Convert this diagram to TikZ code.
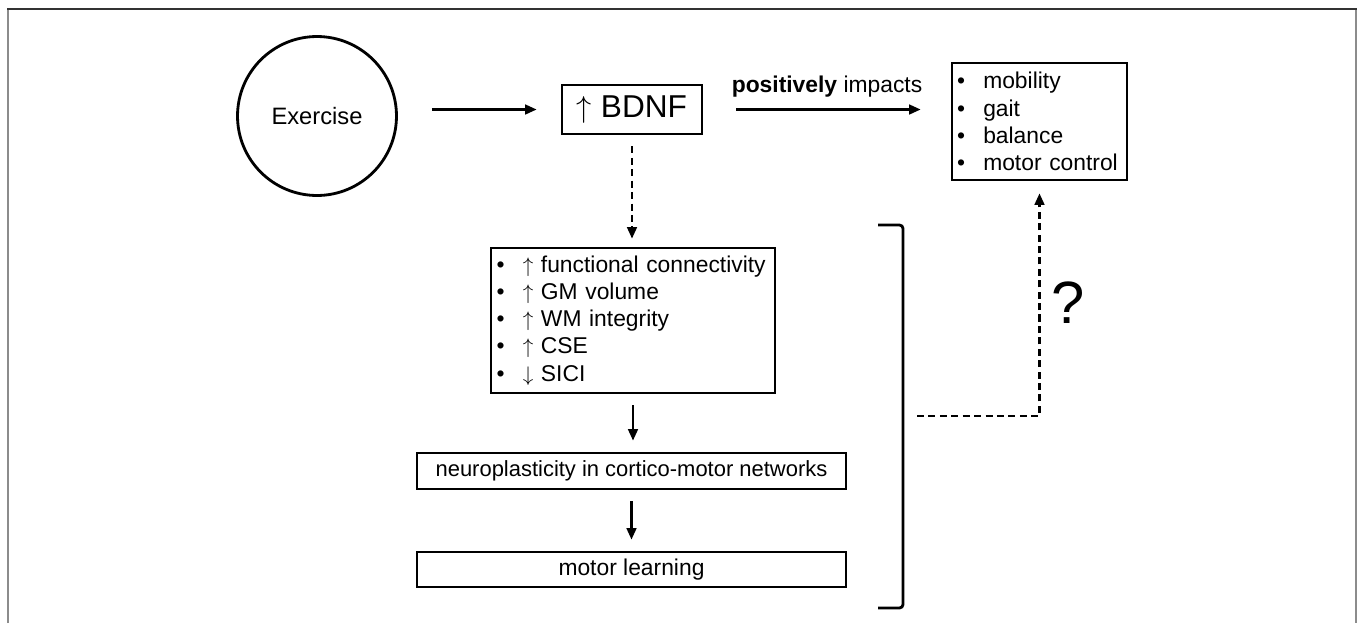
\documentclass[tikz,border=0pt]{standalone}
\usepackage{fontspec}
\setmainfont{Liberation Sans}
\usetikzlibrary{arrows.meta}

\newcommand{\itm}[1]{\mbox{\makebox[1.15em][l]{\textbullet}#1}}

\begin{document}
\begin{tikzpicture}[x=0.02cm,y=-0.02cm,
    txt/.style={font=\fontsize{13}{15.5}\selectfont},
    box/.style={txt,draw,line width=1.6pt,inner sep=0pt},
    lst/.style={box,align=left,inner xsep=0.1cm},
    arr/.style={line width=1.3pt,-{Triangle[length=6.5pt,width=5.5pt]}},
    dasharr/.style={arr,dash pattern=on 4pt off 2.5pt}]
  \useasboundingbox (0,0) rectangle (1360,623);
  \draw[line width=1.1pt,black!45] (8,623) -- (8,9) (1356,9) -- (1356,623);
  \draw[line width=1.1pt,black!80] (7,9) -- (1357,9);

  \node[txt,draw,circle,line width=1.6pt,minimum size=3.18cm,inner sep=0pt,
        font=\fontsize{13.5}{16}\selectfont] (ex) at (317,116) {Exercise};
  \node[box,minimum width=2.8cm,minimum height=0.98cm,
        font=\fontsize{18}{20}\selectfont] (bdnf) at (632,109.5) {$\uparrow$ BDNF};
  \node[txt] (pos) at (827,87) {\textbf{positively} impacts};
  \node[lst,text width=3.3cm,minimum height=2.34cm] (mob) at (1039.5,121.5)
    {\itm{mobility}\\ \itm{gait}\\ \itm{balance}\\ \itm{motor control}};

  \node[lst,text width=5.46cm,inner xsep=0.11cm,minimum height=2.9cm] (chg) at (633,320.5)
    {\itm{$\uparrow$ functional connectivity}\\ \itm{$\uparrow$ GM volume}\\
     \itm{$\uparrow$ WM integrity}\\ \itm{$\uparrow$ CSE}\\ \itm{$\downarrow$ SICI}};
  \node[box,minimum width=8.58cm,minimum height=0.72cm,
        font=\fontsize{12.5}{15}\selectfont] (plast) at (631.5,471)
    {neuroplasticity in cortico-motor networks};
  \node[box,minimum width=8.58cm,minimum height=0.7cm] (learn) at (631.5,569.5)
    {motor learning};

  \node[font=\fontsize{34}{36}\selectfont] (q) at (1068,303) {?};

  \draw[arr,shorten <=0.68cm,shorten >=0.48cm] (ex.east |- bdnf.west) -- (bdnf.west);
  \draw[arr,shorten <=0.66cm,shorten >=0.6cm] (bdnf.east) -- (bdnf.east -| mob.west);
  \draw[dasharr,shorten <=0.22cm,shorten >=0.16cm] (bdnf.south) -- (bdnf.south |- chg.north);
  \foreach \a/\b in {chg/plast,plast/learn}
    \draw[arr,shorten <=0.22cm,shorten >=0.22cm] (\a.south) -- (\a.south |- \b.north);

  \draw[line width=1.6pt,rounded corners=2pt] (878,225) -- (903,225) -- (903,608) -- (878,608);
  \coordinate (br) at (917,416);
  \draw[dasharr,shorten >=0.24cm] (br) -| (mob.south);
\end{tikzpicture}
\end{document}
